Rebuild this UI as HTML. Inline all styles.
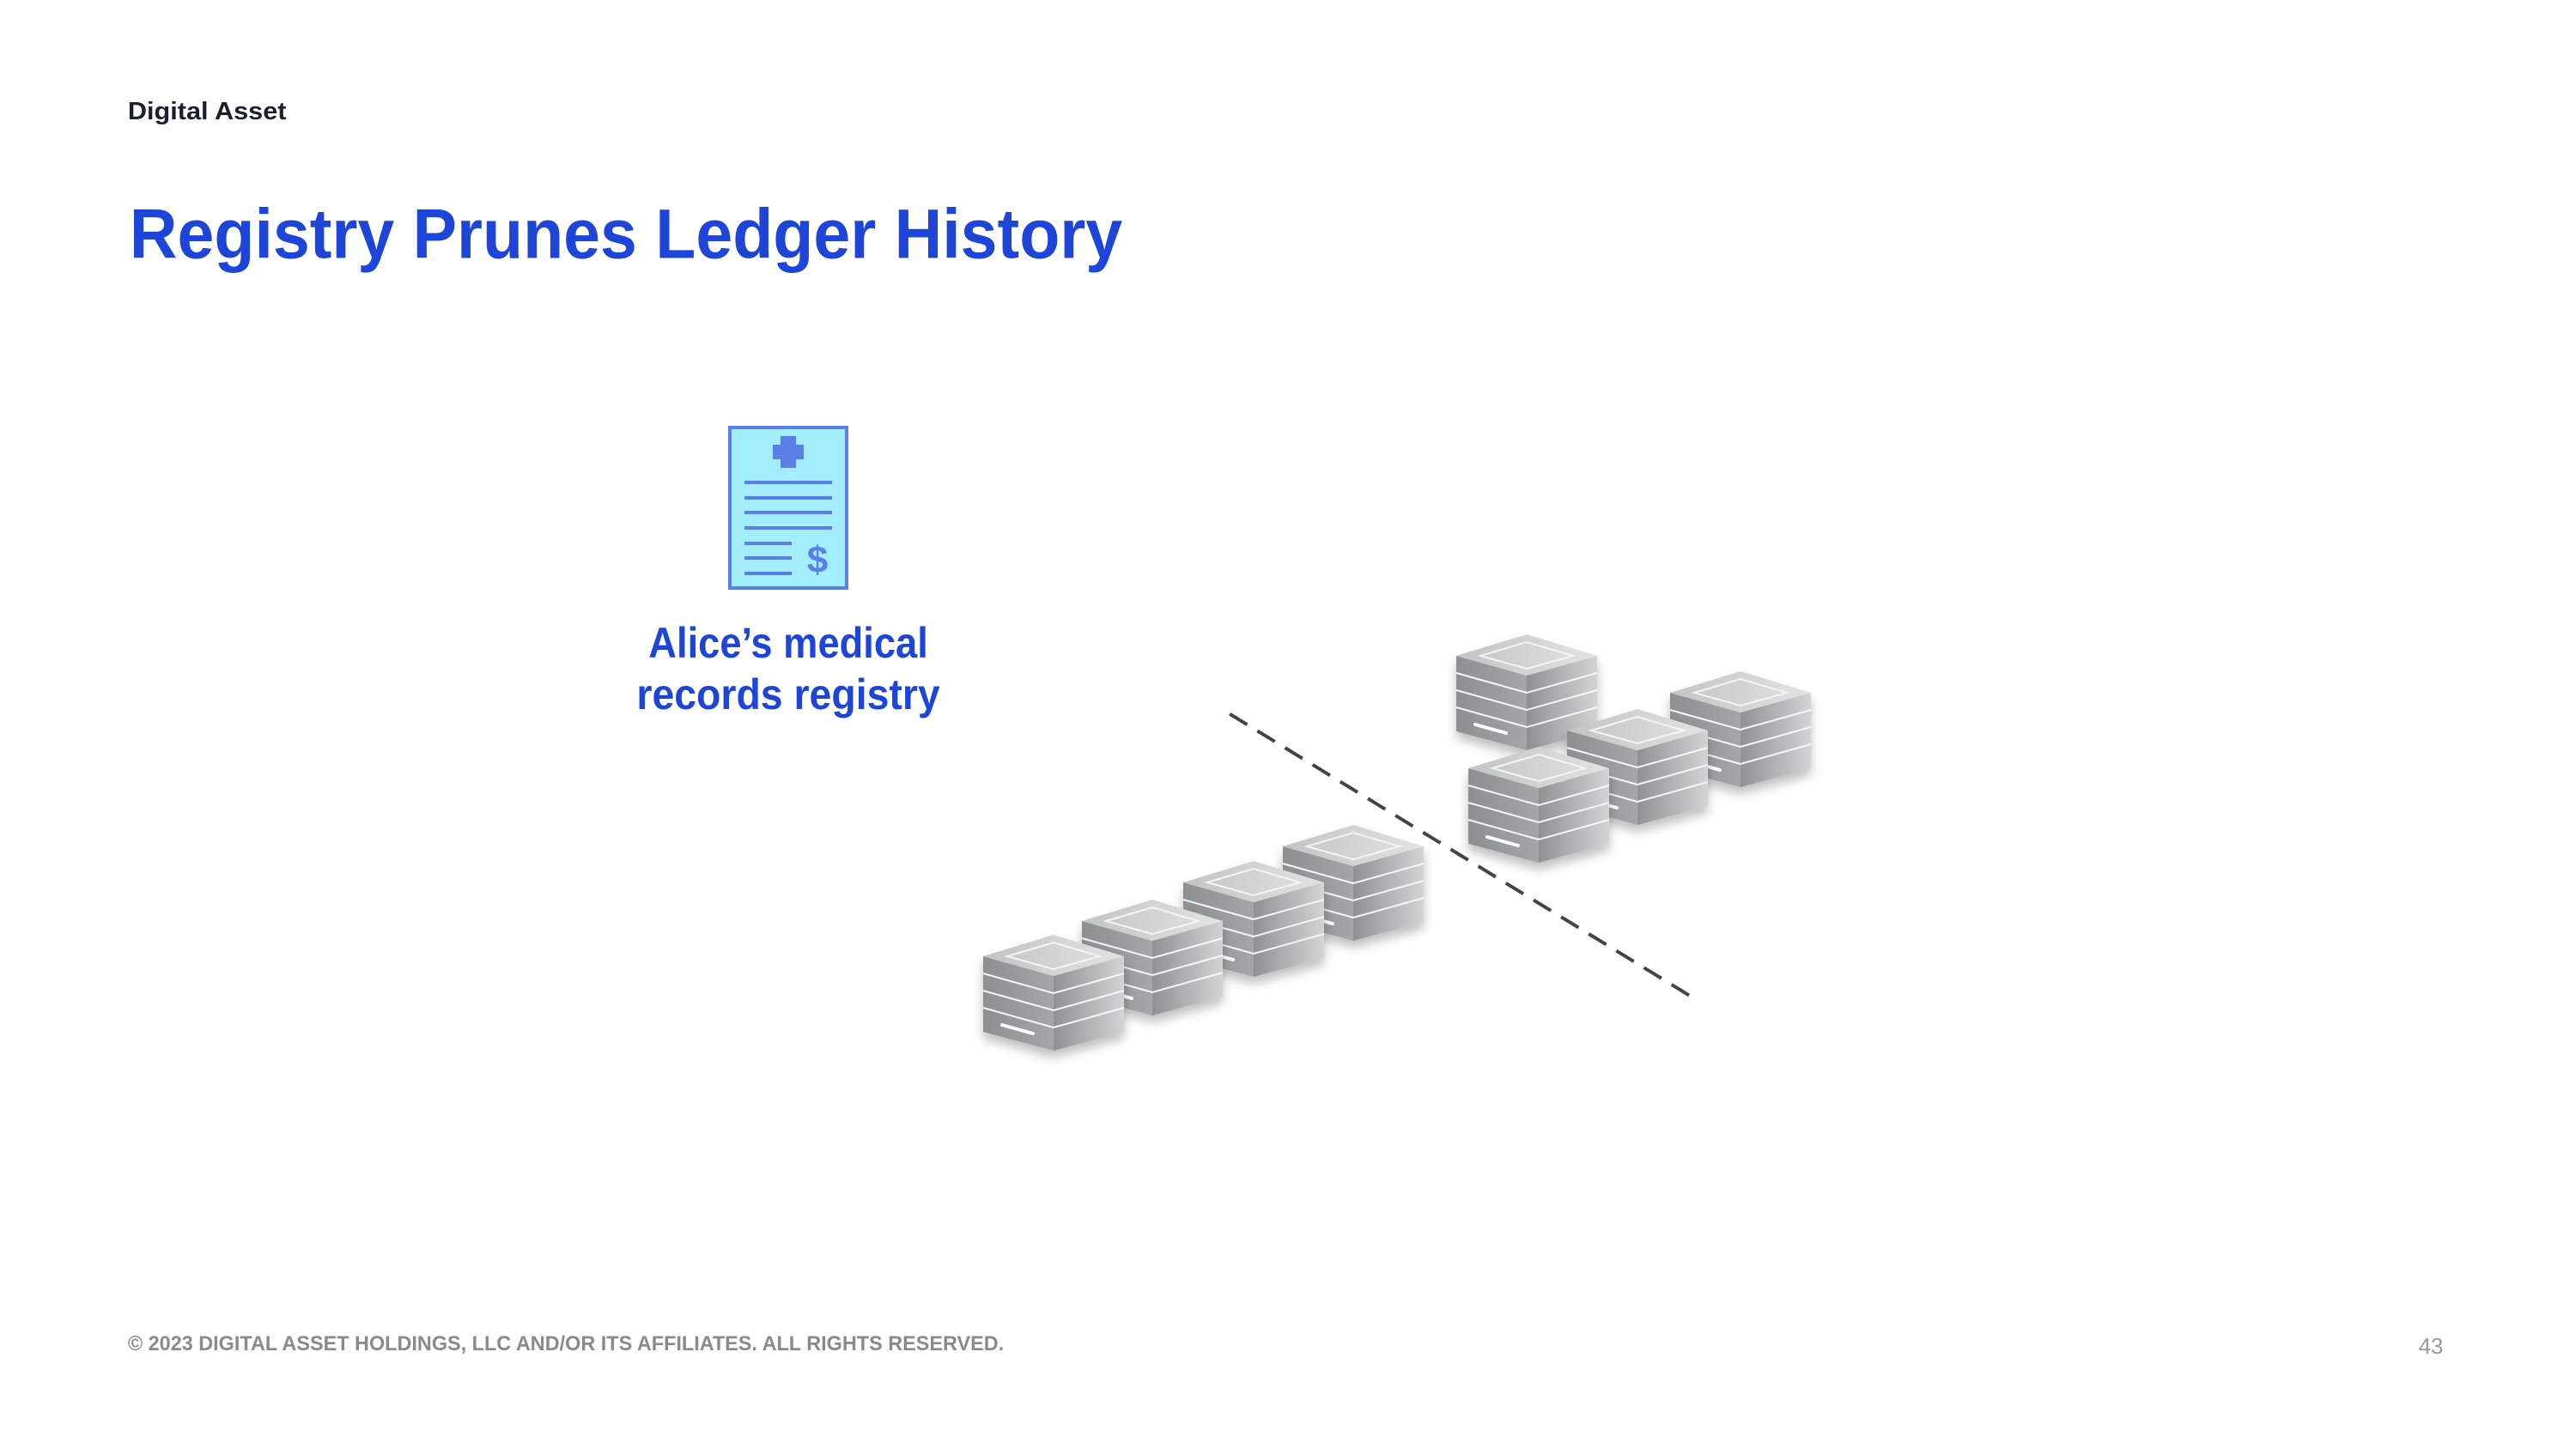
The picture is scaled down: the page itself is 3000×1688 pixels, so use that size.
<!DOCTYPE html>
<html><head><meta charset="utf-8"><style>
html,body{margin:0;padding:0;background:#fff;}
svg{display:block}
</style></head><body>
<svg width="3000" height="1688" viewBox="0 0 3000 1688" xmlns="http://www.w3.org/2000/svg">
<defs>
<linearGradient id="gl" x1="0" x2="1" y1="0" y2="0"><stop offset="0" stop-color="#8c9091"/><stop offset="1" stop-color="#a4a6a7"/></linearGradient>
<linearGradient id="gr" x1="0" x2="1" y1="0" y2="0"><stop offset="0" stop-color="#8f9293"/><stop offset="1" stop-color="#d3d4d4"/></linearGradient>
<linearGradient id="gt" x1="0" x2="1" y1="0" y2="0"><stop offset="0" stop-color="#c2c4c4"/><stop offset="1" stop-color="#e2e3e3"/></linearGradient>
<filter id="sh" x="-20%" y="-20%" width="140%" height="150%"><feDropShadow dx="0" dy="8" stdDeviation="6" flood-color="#000" flood-opacity="0.25"/></filter>
<g id="srv">
<g filter="url(#sh)">
<polygon points="0,25 82,48 82,135 0,113" fill="url(#gl)"/>
<polygon points="82,48 164,25 164,113 82,135" fill="url(#gr)"/>
<polygon points="0,25 82,0 164,25 82,48" fill="url(#gt)"/>
</g>
<polygon points="28,25 82,9 136,25 82,40" fill="none" stroke="#f4f4f4" stroke-width="2"/>
<g stroke="#f6f6f6" stroke-width="2" fill="none">
<polyline points="0,45 82,68 164,45"/>
<polyline points="0,65 82,88 164,65"/>
<polyline points="0,85 82,108 164,85"/>
</g>
<line x1="22" y1="105" x2="58" y2="115" stroke="#fff" stroke-width="4" stroke-linecap="round"/>
</g>
</defs>

<rect x="850" y="498" width="136" height="187" fill="#a3eefc" stroke="#5b7fe8" stroke-width="4"/>
<rect x="909" y="508" width="18" height="37" fill="#5b7fe8"/>
<rect x="900" y="518" width="36" height="17" fill="#5b7fe8"/>
<g stroke="#5b7fe8" stroke-width="4">
<line x1="867" y1="562" x2="969" y2="562"/>
<line x1="867" y1="580" x2="969" y2="580"/>
<line x1="867" y1="597" x2="969" y2="597"/>
<line x1="867" y1="615" x2="969" y2="615"/>
<line x1="867" y1="633" x2="922" y2="633"/>
<line x1="867" y1="650" x2="922" y2="650"/>
<line x1="867" y1="668" x2="922" y2="668"/>
</g>
<text x="952" y="667" text-anchor="middle" font-family="Liberation Sans, sans-serif" font-weight="bold" font-size="44" fill="#5b7fe8">$</text>

<g transform="translate(-6,-3)">
<use href="#srv" x="1702" y="742"/>
<use href="#srv" x="1951" y="785"/>
<use href="#srv" x="1831" y="829"/>
<use href="#srv" x="1716" y="873"/>
<use href="#srv" x="1500" y="964"/>
<use href="#srv" x="1384" y="1006"/>
<use href="#srv" x="1266" y="1051"/>
<use href="#srv" x="1151" y="1092"/>
</g>

<g transform="scale(0.9925)">
<text x="150" y="140" font-family="Liberation Sans, sans-serif" font-weight="bold" font-size="29" fill="#1b2030" textLength="186" lengthAdjust="spacingAndGlyphs">Digital Asset</text>

<text x="152" y="303" font-family="Liberation Sans, sans-serif" font-weight="bold" font-size="82" fill="#1d46d8" textLength="1165" lengthAdjust="spacingAndGlyphs">Registry Prunes Ledger History</text>

<text x="925" y="772" text-anchor="middle" font-family="Liberation Sans, sans-serif" font-weight="bold" font-size="50" fill="#1d46d8" textLength="328" lengthAdjust="spacingAndGlyphs">Alice’s medical</text>
<text x="925" y="832" text-anchor="middle" font-family="Liberation Sans, sans-serif" font-weight="bold" font-size="50" fill="#1d46d8" textLength="356" lengthAdjust="spacingAndGlyphs">records registry</text>

<line x1="1443" y1="838" x2="1993" y2="1175" stroke="#444" stroke-width="4" stroke-dasharray="24,14"/>

<text x="150" y="1585" font-family="Liberation Sans, sans-serif" font-weight="bold" font-size="24" fill="#8a8a8a" textLength="1028" lengthAdjust="spacingAndGlyphs">© 2023  DIGITAL ASSET HOLDINGS, LLC AND/OR ITS AFFILIATES. ALL RIGHTS RESERVED.</text>
<text x="2838" y="1589" font-family="Liberation Sans, sans-serif" font-size="26" fill="#9a9a9a">43</text>
</g>
</svg>
</body></html>
